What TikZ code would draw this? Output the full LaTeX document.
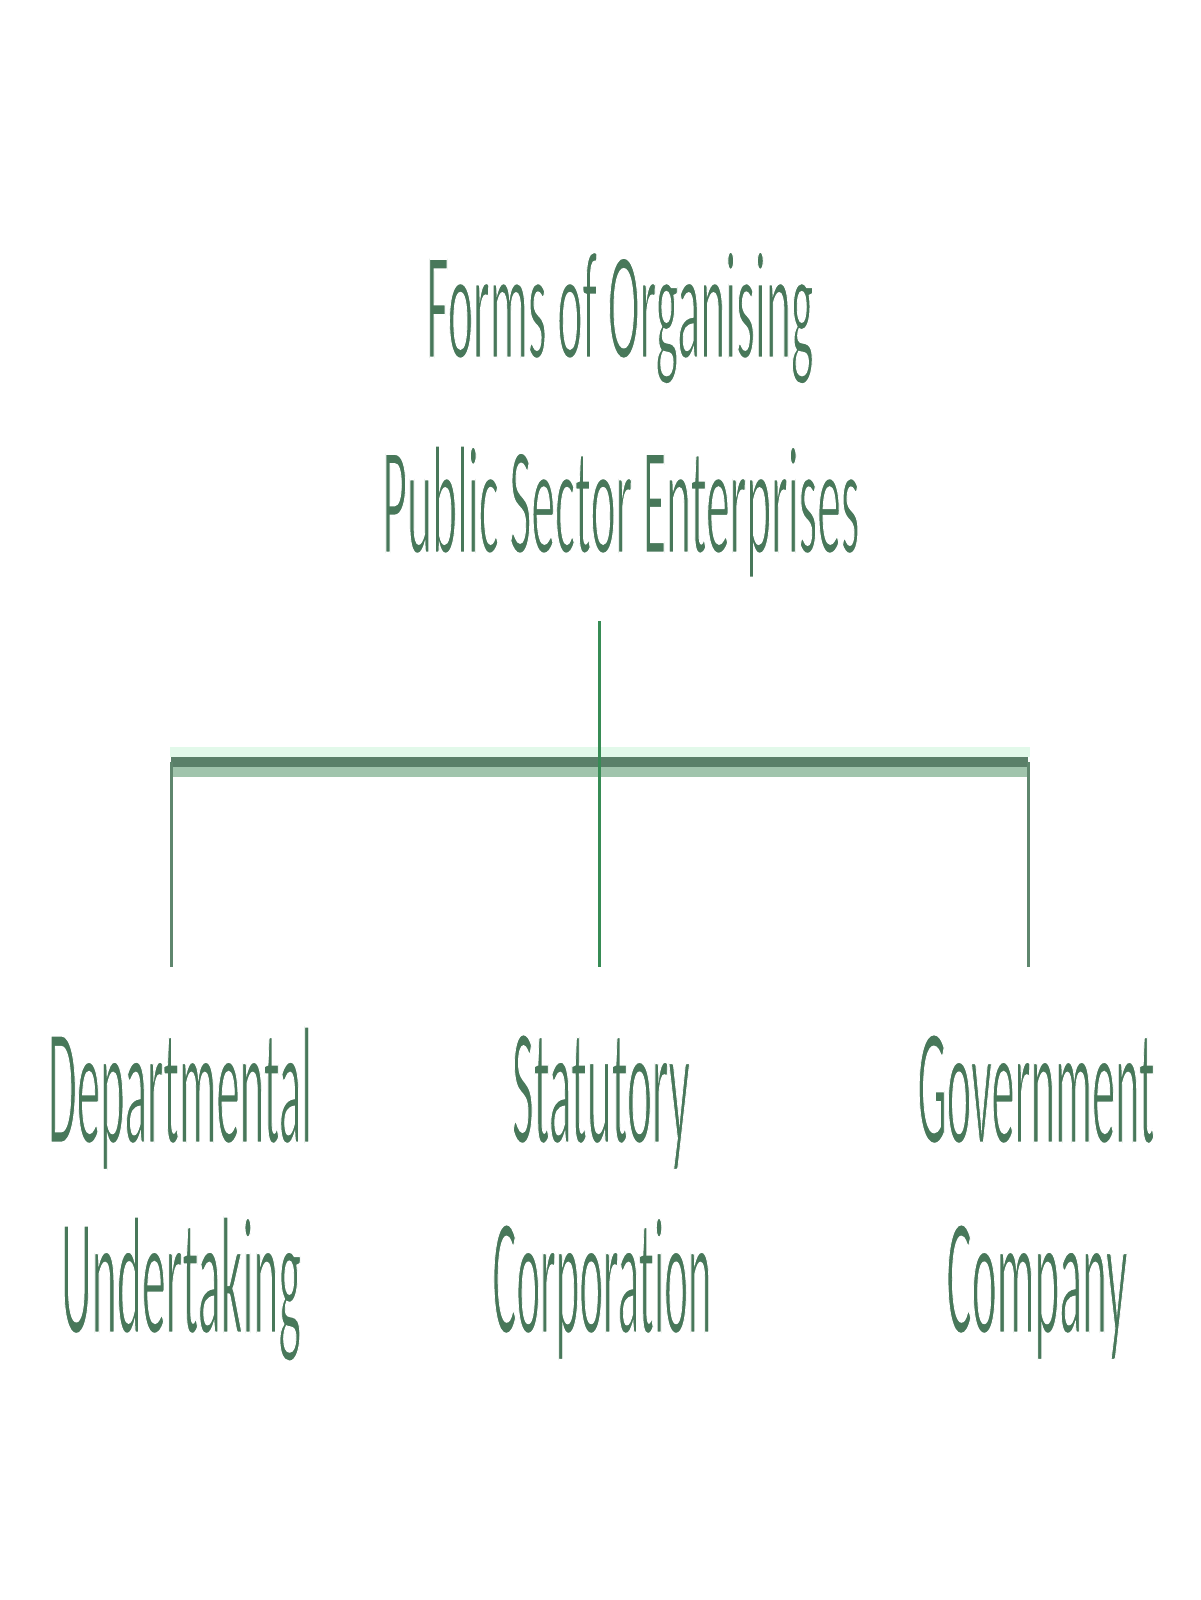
\documentclass[tikz,border=0pt]{standalone}
\usepackage{fontspec}
\setmainfont{Carlito}[Ligatures={NoCommon}]
\usepackage{graphicx}
\definecolor{textgreen}{RGB}{72,120,90}
\definecolor{bardark}{RGB}{90,128,105}
\definecolor{barlight}{RGB}{160,196,172}
\definecolor{barhalo}{RGB}{226,249,234}
\definecolor{stemgreen}{RGB}{55,140,85}
\definecolor{sidegreen}{RGB}{95,135,110}
% thin the glyphs a little: fill, then stroke the outline in white
\newcommand\thinon{\special{pdf:literal direct 2 Tr 1 1 1 RG 2.6 w}}
\newcommand\thinoff{\special{pdf:literal direct 0 Tr}}
\newcommand\fitw[2]{\resizebox{#1pt}{\height}{\thinon#2\thinoff}}
\begin{document}
\begin{tikzpicture}[x=1pt,y=-1pt,
  lbl/.style={anchor=base, inner sep=0pt, outer sep=0pt, text=textgreen,
              font=\fontsize{168}{200}\selectfont},
  ttl/.style={lbl, font=\fontsize{155}{190}\selectfont},
  stem/.style={draw=stemgreen, line width=3pt},
  side/.style={draw=sidegreen, line width=3pt}]
\useasboundingbox (0,0) rectangle (1200,1600);
\fill[white] (0,0) rectangle (1200,1600);

% texts
\node[ttl] (title1) at (620,358) {\fitw{387}{Forms of Organising}};
\node[ttl] (title2) at (621,553) {\fitw{477}{Public Sector Enterprises}};
\node[lbl] (dep1) at (180,1143) {\fitw{264}{Departmental}};
\node[lbl] (dep2) at (181,1333) {\fitw{240}{Undertaking}};
\node[lbl] (stat1) at (601,1143) {\fitw{178}{Statutory}};
\node[lbl] (stat2) at (602,1333) {\fitw{219}{Corporation}};
\node[lbl] (gov1) at (1036,1143) {\fitw{237}{Government}};
\node[lbl] (gov2) at (1037,1333) {\fitw{181}{Company}};

% connector points
\coordinate (top) at (599,621);
\coordinate (hub) at (599,762);
\coordinate (lb) at (171,762);
\coordinate (rb) at (1028,762);
\coordinate (lbot) at (171,967);
\coordinate (cbot) at (599,967);
\coordinate (rbot) at (1028,967);

% bar with halo and lighter band
\fill[barhalo] (170,747) rectangle (1030,757);
\fill[barlight] (170,767) rectangle (1030,777);
\draw[bardark, line width=10pt] (lb) -- (hub) -- (rb);

% vertical connectors
\draw[stem] (top) -- (hub) -- (cbot);
\draw[side] (lb) -- (lbot);
\draw[side] (rb) -- (rbot);
\end{tikzpicture}
\end{document}
